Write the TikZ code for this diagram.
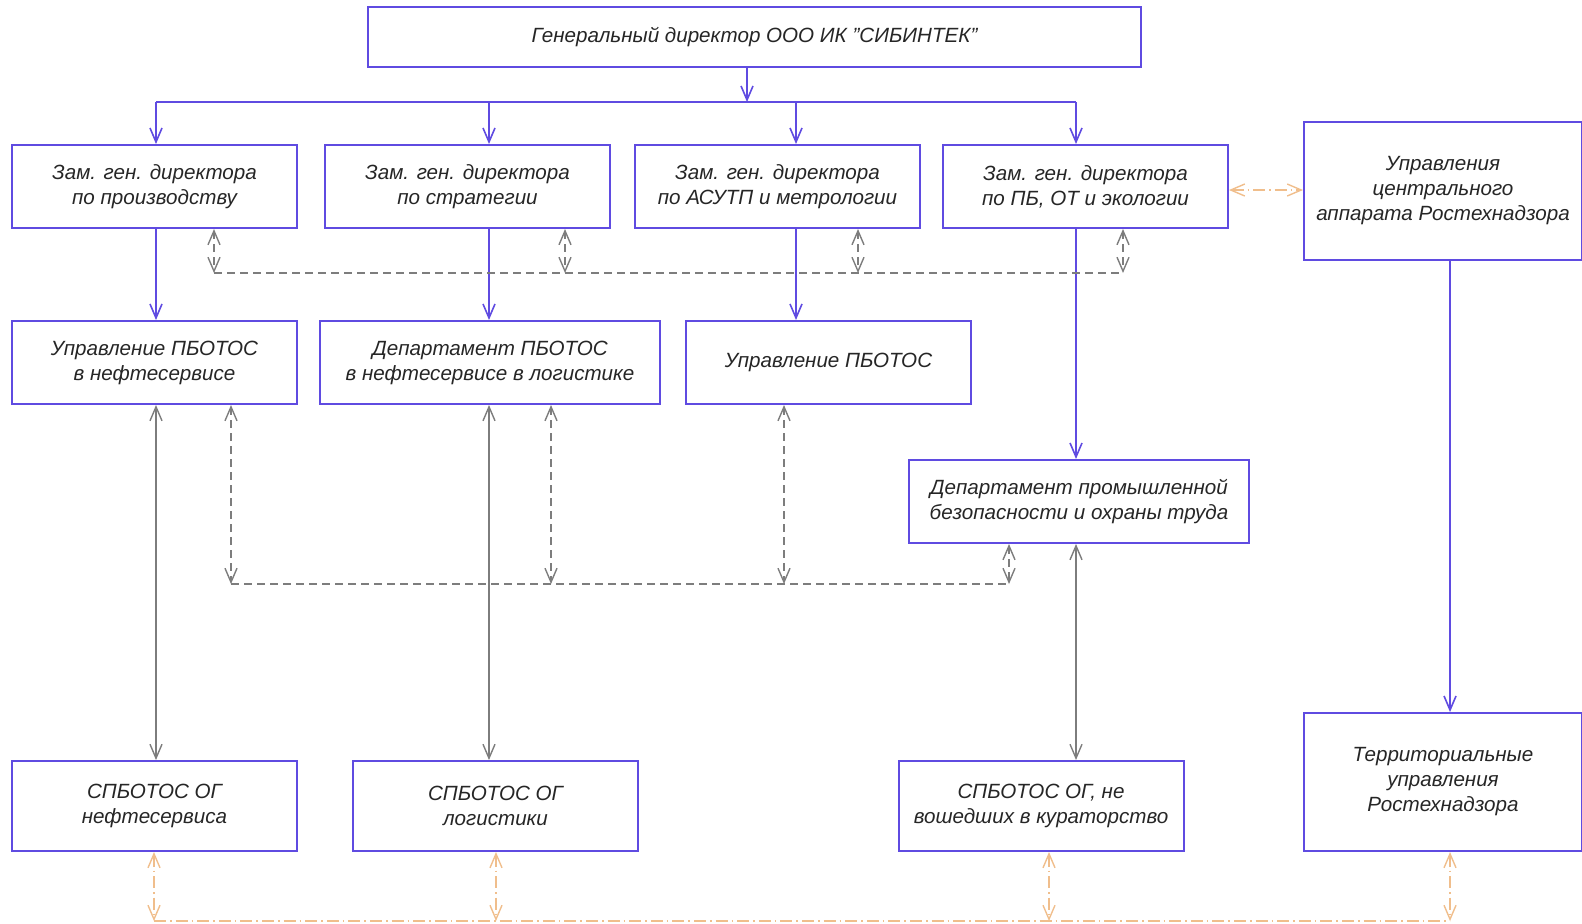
\documentclass[tikz,border=0pt]{standalone}
\usepackage{fontspec}
\setmainfont{Liberation Sans}
\usetikzlibrary{arrows.meta, positioning}

\definecolor{lineblue}{RGB}{95,75,225}
\definecolor{linegray}{RGB}{125,125,125}
\definecolor{lineorange}{RGB}{240,190,140}

\tikzset{>={Straight Barb[length=7pt,width=6pt]}}

\begin{document}
\begin{tikzpicture}[x=0.5pt, y=-0.5pt,
    every node/.style={font=\itshape\fontsize{10.3}{12.5}\selectfont, text=black!85},
    unit/.style={draw=lineblue, line width=1pt, align=center, minimum width=142.5pt, minimum height=41.5pt, inner sep=2pt},
    link/.style={lineblue, line width=0.8pt, ->},
    twoway/.style={linegray, line width=0.7pt, <->},
    tie/.style={linegray, line width=0.7pt, dash pattern=on 4pt off 2.5pt},
    rtn/.style={lineorange, line width=0.7pt, dash pattern=on 6pt off 2pt on 0.8pt off 2pt}]
    \useasboundingbox (0,0) rectangle (1582,923);

    % Boxes
    \node[unit, minimum width=386.5pt, minimum height=30pt] (gd) at (754.5,37) {Генеральный директор ООО ИК "СИБИНТЕК"};
    \node[unit] (z1) at (154.5,186.5) {Зам. ген. директора\\по производству};
    \node[unit, right=13pt of z1] (z2) {Зам. ген. директора\\по стратегии};
    \node[unit, right=11.5pt of z2] (z3) {Зам. ген. директора\\по АСУТП и метрологии};
    \node[unit, right=10.5pt of z3] (z4) {Зам. ген. директора\\по ПБ, ОТ и экологии};
    \node[unit, minimum width=139pt, minimum height=69pt] (rcu) at (1443,191) {Управления\\центрального\\аппарата Ростехнадзора};

    \node[unit] (u1) at (154.5,362.5) {Управление ПБОТОС\\в нефтесервисе};
    \node[unit, minimum width=170pt] (d1) at (490,362.5) {Департамент ПБОТОС\\в нефтесервисе в логистике};
    \node[unit] (u2) at (828.5,362.5) {Управление ПБОТОС};
    \node[unit, minimum width=170pt] (dpb) at (1079,501.5) {Департамент промышленной\\безопасности и охраны труда};

    \node[unit, minimum height=45pt] (s1) at (154.5,806) {СПБОТОС ОГ\\нефтесервиса};
    \node[unit, minimum height=45pt] (s2) at (495.5,806) {СПБОТОС ОГ\\логистики};
    \node[unit, minimum height=45pt] (s3) at (1041,806) {СПБОТОС ОГ, не\\вошедших в кураторство};
    \node[unit, minimum width=139pt, minimum height=69pt] (rtu) at (1443,782) {Территориальные\\управления\\Ростехнадзора};

    % Columns of the main lines
    \coordinate (bus) at (747,102);
    \coordinate (c1) at (156,0);
    \coordinate (c2) at (489,0);
    \coordinate (c3) at (796,0);
    \coordinate (c4) at (1076,0);
    \coordinate (c5) at (1450,0);

    % Subordination
    \draw[link] (gd.south -| bus) -- (bus);
    \draw[lineblue, line width=0.8pt] (c1 |- bus) -- (c4 |- bus);
    \foreach \c/\n in {c1/z1, c2/z2, c3/z3, c4/z4}
        \draw[link] (\c |- bus) -- (\c |- \n.north);
    \draw[link] (c1 |- z1.south) -- (c1 |- u1.north);
    \draw[link] (c2 |- z2.south) -- (c2 |- d1.north);
    \draw[link] (c3 |- z3.south) -- (c3 |- u2.north);
    \draw[link] (c4 |- z4.south) -- (c4 |- dpb.north);
    \draw[link] (c5 |- rcu.south) -- (c5 |- rtu.north);

    % Links to the services
    \draw[twoway] (c1 |- u1.south) -- (c1 |- s1.north);
    \draw[twoway] (c2 |- d1.south) -- (c2 |- s2.north);
    \draw[twoway] (c4 |- dpb.south) -- (c4 |- s3.north);

    % Dashed ties, upper row
    \coordinate (t1) at (214,273);
    \coordinate (t2) at (565,273);
    \coordinate (t3) at (858,273);
    \coordinate (t4) at (1123,273);
    \draw[tie] (t1) -- (t4);
    \foreach \p/\n in {t1/z1, t2/z2, t3/z3, t4/z4}
        \draw[tie, <->] (\p |- \n.south) -- (\p);

    % Dashed ties, lower row
    \coordinate (b1) at (231,584);
    \coordinate (b2) at (551,584);
    \coordinate (b3) at (784,584);
    \coordinate (b4) at (1009,584);
    \draw[tie] (b1) -- (b4);
    \foreach \p/\n in {b1/u1, b2/d1, b3/u2, b4/dpb}
        \draw[tie, <->] (\p |- \n.south) -- (\p);

    % Rostekhnadzor
    \draw[rtn, <->] (z4.east |- 0,190) -- (rcu.west |- 0,190);
    \coordinate (o1) at (154,921);
    \coordinate (o2) at (496,921);
    \coordinate (o3) at (1049,921);
    \coordinate (o4) at (1450,921);
    \draw[rtn] (o1) -- (o4);
    \foreach \p/\n in {o1/s1, o2/s2, o3/s3, o4/rtu}
        \draw[rtn, <->] (\p |- \n.south) -- (\p);
\end{tikzpicture}
\end{document}
